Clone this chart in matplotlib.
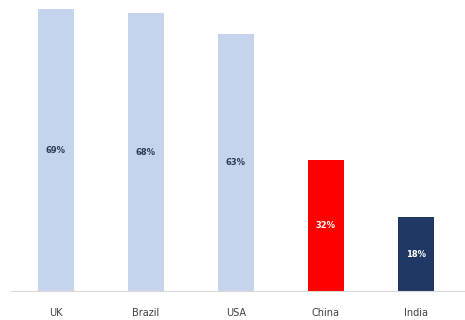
import matplotlib.pyplot as plt

countries = ["UK", "Brazil", "USA", "China", "India"]
shares = [69, 68, 63, 32, 18]
bar_colors = ["#C5D3EC", "#C5D3EC", "#C5D3EC", "#FF0000", "#1F3864"]
label_colors = ["#2E3B55", "#2E3B55", "#2E3B55", "white", "white"]

fig = plt.figure(figsize=(4.65, 3.2), dpi=100)
ax = fig.add_axes([0, 29 / 320, 1, 286 / 320])

x = range(len(countries))
bars = ax.bar(x, shares, width=0.4, color=bar_colors)

# percentage labels sit in the middle of each bar
for bar, val, lc in zip(bars, shares, label_colors):
    ax.text(bar.get_x() + bar.get_width() / 2, val / 2, f"{val}%",
            ha="center", va="center", fontsize=6, fontweight="bold", color=lc)

ax.set_xlim(-0.62, 4.55)
ax.set_ylim(0, 70)
ax.set_xticks(list(x))
ax.set_xticklabels(countries, fontsize=7, color="#404040")
ax.tick_params(axis="x", length=0, pad=12)
ax.set_yticks([])
for side in ["top", "right", "left"]:
    ax.spines[side].set_visible(False)
ax.spines["bottom"].set_color("#D9D9D9")
ax.spines["bottom"].set_bounds(-0.5, 4.55)

fig.savefig("out.png", dpi=100)
